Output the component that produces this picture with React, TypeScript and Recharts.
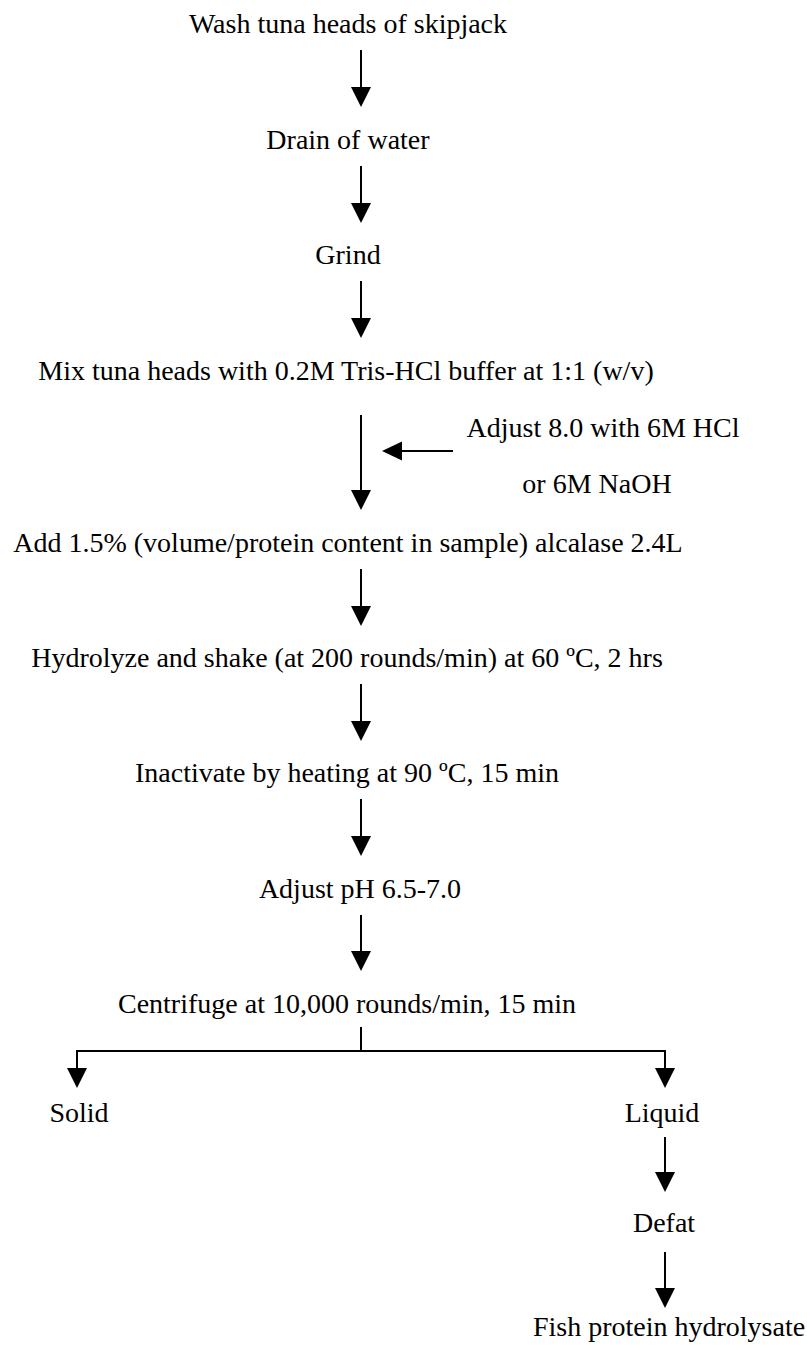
import { ScatterChart, Scatter, XAxis, YAxis, ReferenceLine } from 'recharts';

const W = 807;
const H = 1345;

// step texts: centre x and baseline y, in page pixels
const steps = [
  { text: 'Wash tuna heads of skipjack', x: 348, y: 33 },
  { text: 'Drain of water', x: 348, y: 149 },
  { text: 'Grind', x: 348, y: 264 },
  { text: 'Mix tuna heads with 0.2M Tris-HCl buffer at 1:1 (w/v)', x: 346, y: 380 },
  { text: 'Adjust 8.0 with 6M HCl', x: 603, y: 437 },
  { text: 'or 6M NaOH', x: 597, y: 493 },
  { text: 'Add 1.5% (volume/protein content in sample) alcalase 2.4L', x: 348, y: 552 },
  { text: 'Hydrolyze and shake (at 200 rounds/min) at 60 ºC, 2 hrs', x: 347, y: 667 },
  { text: 'Inactivate by heating at 90 ºC, 15 min', x: 347, y: 782 },
  { text: 'Adjust pH 6.5-7.0', x: 360, y: 898 },
  { text: 'Centrifuge at 10,000 rounds/min, 15 min', x: 347, y: 1013 },
  { text: 'Solid', x: 79, y: 1122 },
  { text: 'Liquid', x: 662, y: 1122 },
  { text: 'Defat', x: 664, y: 1232 },
  { text: 'Fish protein hydrolysate', x: 669, y: 1336 },
];

// vertical arrows: x, start y, tip y
const downArrows = [
  { x: 361, from: 50, to: 107 },
  { x: 361, from: 166, to: 223 },
  { x: 361, from: 281, to: 338 },
  { x: 361, from: 415, to: 510 },
  { x: 361, from: 569, to: 626 },
  { x: 361, from: 684, to: 741 },
  { x: 361, from: 799, to: 856 },
  { x: 361, from: 915, to: 971 },
  { x: 77, from: 1051, to: 1088 },
  { x: 665, from: 1051, to: 1088 },
  { x: 665, from: 1137, to: 1192 },
  { x: 665, from: 1252, to: 1308 },
];

// horizontal arrow pointing left: y, start x, tip x
const leftArrows = [{ y: 451, from: 453, to: 382 }];

// plain connector lines (branch of the centrifuge step)
const connectors = [
  { x1: 361, y1: 1027, x2: 361, y2: 1051 },
  { x1: 76, y1: 1051, x2: 666, y2: 1051 },
];

const HEAD = 20;

const heads = [
  ...downArrows.map((a) => ({ x: a.x, y: a.to, dir: 'down' })),
  ...leftArrows.map((a) => ({ x: a.to, y: a.y, dir: 'left' })),
];

const renderLabel = (p: any) => (
  <text
    x={p.cx}
    y={p.cy}
    textAnchor="middle"
    fontFamily="'Liberation Serif', 'Times New Roman', serif"
    fontSize={28}
    fill="#000"
  >
    {p.payload.text}
  </text>
);

const renderHead = (p: any) => {
  const { cx, cy } = p;
  const pts =
    p.payload.dir === 'down'
      ? `${cx - 10},${cy - HEAD} ${cx + 10},${cy - HEAD} ${cx},${cy}`
      : `${cx},${cy} ${cx + HEAD},${cy - 9.5} ${cx + HEAD},${cy + 9.5}`;
  return <polygon points={pts} fill="#000" />;
};

export default function App() {
  return (
    <div style={{ position: 'absolute', left: 0, top: 0, background: '#fff' }}>
      <ScatterChart width={W} height={H} margin={{ top: 0, right: 0, bottom: 0, left: 0 }}>
        <XAxis type="number" dataKey="x" domain={[0, W]} hide allowDataOverflow />
        <YAxis type="number" dataKey="y" domain={[0, H]} reversed hide allowDataOverflow />
        {downArrows.map((a, i) => (
          <ReferenceLine
            key={'d' + i}
            segment={[
              { x: a.x, y: a.from },
              { x: a.x, y: a.to - HEAD + 2 },
            ]}
            stroke="#000"
            strokeWidth={2}
            ifOverflow="visible"
          />
        ))}
        {leftArrows.map((a, i) => (
          <ReferenceLine
            key={'l' + i}
            segment={[
              { x: a.from, y: a.y },
              { x: a.to + HEAD - 2, y: a.y },
            ]}
            stroke="#000"
            strokeWidth={2}
            ifOverflow="visible"
          />
        ))}
        {connectors.map((c, i) => (
          <ReferenceLine
            key={'c' + i}
            segment={[
              { x: c.x1, y: c.y1 },
              { x: c.x2, y: c.y2 },
            ]}
            stroke="#000"
            strokeWidth={2}
            ifOverflow="visible"
          />
        ))}
        <Scatter data={heads} shape={renderHead} isAnimationActive={false} />
        <Scatter data={steps} shape={renderLabel} isAnimationActive={false} />
      </ScatterChart>
    </div>
  );
}
